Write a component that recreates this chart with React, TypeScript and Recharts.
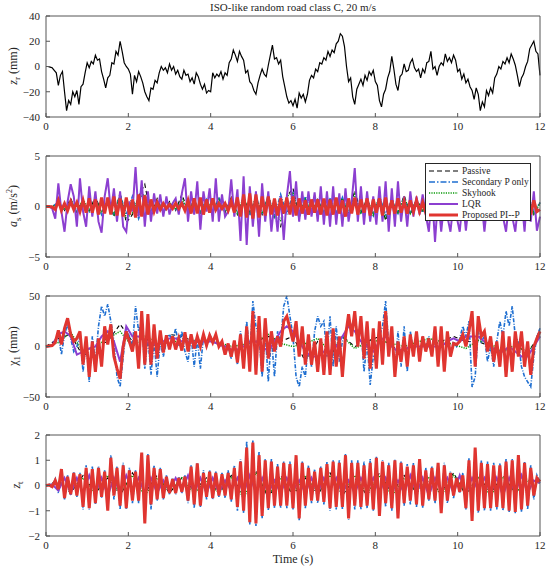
import React from 'react';
import { LineChart, Line, XAxis, YAxis } from 'recharts';

const T_END = 12;
const xTicks = [0, 2, 4, 6, 8, 10, 12];

// road profile z_r (mm), one value every 0.05 s
const roadZr = [
  0, 0, -0.5, -1, -3, -5, -15, -7, -4, -20, -35, -27, -30, -20, -24, -19, -30, -16, -14, -5,
  3, -1, 4, 2, 9, 5, 6, -4, -10, -17, -9, -7, 3, 2, 12, 9, 20, 12, 3, 0,
  -2, -6, -22, -7, -12, -4, -8, -13, -20, -24, -27, -17, -18, -11, -13, -5, 0, -3, -1, -5,
  2, -3, 0, -6, -3, -8, -10, -3, -7, -6, -12, -9, -14, -5, -8, -14, -18, -14, -21, -19,
  -20, -5, -9, -6, -8, -4, -10, -5, -7, 3, 6, 13, 9, 4, 12, 8, 5, -5, -3, -12,
  -14, -19, -22, -13, -7, -2, -6, -8, 1, 9, 17, 6, 7, 2, 5, -8, -16, -24, -29, -27,
  -31, -26, -33, -21, -25, -22, -28, -22, -11, -7, -9, -2, -4, 3, 2, 7, 5, 12, 8, 13,
  11, 18, 20, 26, 24, 16, 0, -12, -9, -24, -30, -18, -14, -10, -15, -7, -11, -4, -7, -3,
  -12, -15, -27, -32, -22, -18, -9, -4, 8, -2, -14, -19, -8, -6, 2, -4, -3, 3, 6, -1,
  -4, -2, -9, -2, -5, 3, 4, 12, -2, 0, -7, 0, 3, 1, 10, 4, 7, 3, 9, 5,
  -4, -2, -10, -6, -13, -10, -16, -19, -26, -17, -22, -35, -28, -32, -19, -23, -17, -21, -9, -6,
  0, -2, 4, 2, 7, 3, 10, 6, 1, -7, -16, -9, -6, 0, 4, 14, 17, 20, 12, 10,
  -7,
];

// sprung mass acceleration a_s (m/s^2)
const asPassive = [
  0, 0, 0.2, -0.4, 0.8, -0.6, 0.6, -0.5, 1.0, -0.6,
  0.5, -1.0, 1.4, -1.6, -0.8, 1.0, 2.2, -1.0, 0.8, -0.6,
  0.5, -0.4, 1.2, -0.4, 0.6, -0.8, 0.6, -0.5, 0.8, -0.6,
  0.9, -0.8, 1.0, -0.6, 0.9, -0.8, 1.1, -1.2, -2.0, 1.0,
  1.8, -0.9, 0.8, -0.8, 0.7, -0.6, 0.8, -0.8, 0.9, -0.8,
  1.6, -0.6, 0.8, -0.9, 1.1, -1.4, 0.8, -0.6, 1.1, -0.8,
  0.8, -0.4, 0.6, -0.8, 0.5, -0.4, 0.7, -0.6, 0.8, -0.7,
  0.6, -0.5, 0.7, -0.8, 0.8, -0.7, 0.9, -0.8, 1.3, -0.8,
  0.4,
];
const asSecondary = [
  0, 0, 0.4, -0.3, 0.6, -0.4, 0.5, -0.6, 0.6, -0.8,
  0.7, -0.9, 1.2, -0.8, 1.0, -1.2, 0.6, -0.4, 0.5, -0.6,
  0.4, -0.3, 0.5, -0.4, 0.6, -0.5, 0.7, -0.6, 0.9, -0.4,
  0.5, -0.6, 0.8, -0.9, 1.0, -0.8, 1.1, -1.0, 1.2, -0.8,
  1.3, -1.2, 1.0, -0.6, 0.7, -0.8, 0.9, -0.7, 0.9, -0.9,
  0.8, -0.6, 0.7, -0.9, 1.0, -0.8, 0.6, -0.7, 0.8, -0.6,
  0.5, -0.6, 0.7, -0.5, 0.6, -0.7, 0.6, -0.6, 0.5, -0.6,
  0.7, -0.6, 0.6, -0.7, 0.8, -0.6, 0.9, -0.8, 1.2, -0.6,
  0.4,
];
const asSkyhook = [
  0, 0, 0.2, -0.3, 0.6, -0.5, 0.7, -0.4, 0.8, -0.6,
  0.4, -0.8, 1.1, -1.2, -0.6, 0.9, 1.2, -0.9, 0.6, -0.5,
  0.4, -0.3, 0.8, -0.4, 0.5, -0.6, 0.6, -0.5, 0.7, -0.6,
  0.8, -0.7, 0.9, -0.6, 0.8, -0.7, 1.0, -1.0, -1.4, 1.0,
  1.4, -0.8, 0.7, -0.6, 0.6, -0.6, 0.7, -0.7, 0.8, -0.6,
  1.2, -0.6, 0.7, -0.8, 1.0, -1.2, 0.6, -0.6, 1.0, -0.7,
  0.6, -0.4, 0.6, -0.6, 0.5, -0.4, 0.6, -0.6, 0.7, -0.6,
  0.6, -0.5, 0.6, -0.7, 0.7, -0.6, 0.8, -0.7, 1.2, -0.7,
  0.3,
];
const asLqr = [
  0, 0, -0.2, -1.2, 2.3, -0.5, -2.5, 0.5, 2.2, 1.0, -2.0, 2.8, -0.5, -2.0, 2.0, -1.0, 1.5, -1.5, -2.6, 1.0,
  2.8, -0.5, 1.8, -1.5, 1.5, -2.0, -2.5, 0.5, -0.5, 3.9, -1.0, 2.6, -2.0, 1.5, -1.5, 1.3, -0.7, 1.2, -1.0, 1.0,
  -0.8, 0.3, 0.8, -0.8, 1.3, 2.8, -1.5, 1.5, -0.8, 2.5, -2.3, 1.5, -0.5, 1.8, -1.5, 2.8, -1.5, 1.2, -1.0, -0.5,
  2.7, -1.0, 1.7, -3.4, 3.0, -3.8, 2.0, -2.0, 1.5, -3.0, 2.3, -1.5, 1.5, -2.5, 0.5, -2.5, 1.0, -3.3, 1.0, 3.5,
  -1.0, 2.5, -1.5, 1.5, -1.3, 1.5, -1.0, 1.4, -1.5, 2.0, -1.8, 1.5, -2.0, 2.0, -1.8, 1.3, -2.0, 1.8, -1.5, 0.5,
  3.8, -1.5, 2.0, -1.8, 1.5, -1.5, 1.0, -1.8, 2.0, -1.5, 2.5, -2.5, 1.8, -2.0, 2.5, -1.5, 1.0, -2.0, 1.5, -1.0,
  1.0, -0.8, 1.2, -0.8, -2.5, 1.5, -3.5, 1.0, -2.5, 0.5, -1.0, -2.5, 0.5, -1.0, -2.5, 0.8, -2.4, 0.5, 1.0, -1.0,
  1.0, 0.8, -2.5, 0.5, 0.8, -1.0, 0.5, 1.0, -1.0, -2.5, 0.5, -1.0, -2.5, 0.5, 1.0, -2.5, 2.0, -1.5, 1.5, -2.4,
  -1.0,
];
const asProposed = [
  0, 0, -0.05, -0.3, 0.6, -0.4, 0.3, -0.4, 0.5, -0.3, 0.4, -0.5, 0.6, -0.6, 0.8, -0.6, 0.7, -0.8, 0.9, -0.7,
  0.9, -0.8, 1.0, -0.9, 0.8, -1.0, 0.9, -0.8, 0.7, -1.1, 1.2, -1.0, 1.1, -0.8, 0.7, -0.5, 0.4, -0.3, 0.3, -0.2,
  0.2, -0.2, 0.3, -0.2, 0.3, -0.4, 0.6, -0.7, 0.8, -0.7, 0.9, -0.8, 0.7, -0.6, 0.8, -0.3, 0.3, -0.2, 0.3, -0.4,
  0.5, -0.6, 0.9, -1.0, 1.2, -1.1, 1.3, -1.2, 1.2, -1.1, 1.0, -0.9, 1.0, -0.8, 0.8, -0.9, 0.8, -0.7, 0.9, -0.8,
  1.0, -0.9, 0.8, -0.7, 0.6, -0.8, 0.7, -0.6, 0.7, -0.8, 0.8, -0.9, 0.7, -0.8, 0.9, -0.7, 0.6, -1.0, 0.8, -0.7,
  0.9, -0.8, 0.7, -0.6, 0.8, -0.9, 0.7, -0.6, 0.8, -0.9, 0.9, -0.8, 0.6, -0.7, 0.8, -0.6, 0.5, -0.7, 0.6, -0.5,
  0.6, -0.5, 0.4, -0.6, 0.5, -0.7, 0.6, -0.5, 0.6, -0.5, 0.4, -0.5, 0.6, -0.5, 0.5, -0.6, 0.7, -0.6, 0.5, -0.7,
  0.6, -0.5, 0.7, -0.6, 0.5, -0.7, 0.6, -0.5, 0.6, -0.7, 0.5, -0.6, 0.7, -0.6, 0.8, -0.7, 0.9, -0.8, 0.6, -0.5,
  -0.3,
];

// primary suspension deflection chi_1 (mm)
const x1Passive = [
  0, 8, 12, -10, 0, 5, 22, 5, 8, 3,
  12, 10, 5, 5, 3, 0, 2, 5, 10, 5,
  10, -15, 5, -10, 10, 0, 5, 10, 0, -5,
  5, 0, 5, 10, 5, 5, 0, -5, 0, -5,
  10,
];
const x1Secondary = [
  0, 0.5, 1, 4, 12, -8, 12, 22, 8, -5, 0, 10, -25, 5, -35, 10, -15, 20, 40, 30,
  42, 25, 5, -30, -40, -10, 18, 10, 0, 40, 15, 25, -22, 10, -28, 5, -30, 5, -10, 5,
  12, 5, 18, 0, 15, -5, -15, 10, -20, 8, -22, 10, 0, 12, 5, 10, 0, 2, -8, 0,
  -12, 5, -18, 15, -20, 25, -10, 45, 20, 10, -30, 15, -35, 10, -30, 15, 5, 40, 50, 30,
  10, -30, -40, -20, -30, 5, -20, 15, 30, 20, 25, -10, 30, -20, 20, -15, 5, 15, 25, 20,
  30, 10, 20, -25, 5, -38, -10, -15, 10, 20, 45, 0, 10, -25, 15, -20, 20, -25, 15, -5,
  10, -10, 8, 0, 10, -5, 15, -15, 12, -20, 10, -5, 5, 0, 8, 20, 10, 25, -40, -30,
  15, 5, 10, -15, 0, -20, 5, 25, 10, 35, 20, 40, 10, 5, -20, -30, -35, -40, -10, 10,
  18,
];
const x1Skyhook = [
  0, 4, 14, -5, 0, 8, 15, 0, 10, 5,
  5, 5, 6, 6, 4, 0, 2, 5, 12, 3,
  0, 3, 8, -5, 10, -2, 4, 6, 3, 0,
  4, 8, 5, 2, -2, 6, 3, -6, 2, -6,
  10,
];
const x1Lqr = [
  0, 1, 12, 15, 10, -8, -5, -2, 0, 10,
  15, 5, -15, 20, 10, 10, 5, 3, 2, 5,
  8, 8, 5, 5, 5, 5, 5, 5, 2, 0,
  -3, -3, 0, 5, 5, 0, -5, 5, 15, 20,
  15, 5, -5, -10, -10, -5, -5, 0, 10, 20,
  15, 5, 0, -5, 5, 10, 0, -5, -3, 0,
  0, 0, 0, 0, 0, 5, 8, 5, 10, 10,
  10, 5, 0, -5, -5, 0, -5, -10, -10, 0,
  10,
];
const x1Proposed = [
  0, 0.5, 1, 4, 16, 2, 18, 28, 12, 5, 8, 15, -18, 10, -30, 5, -25, 8, -20, 20,
  2, 22, -10, -22, -32, 0, 15, 5, -5, 15, -22, 35, -18, 32, -18, 22, -12, 16, -6, 11,
  -3, 10, -3, 8, -4, 14, -5, 12, -2, 10, 0, 12, 1, 11, 4, 12, 0, 5, -8, 3,
  -10, 6, -16, 12, -22, 20, -25, 35, -28, 30, -25, 28, -12, 15, -5, 10, 0, 25, 30, 18,
  5, 25, -10, 20, -18, 12, -18, 5, -25, 8, -28, 15, -28, 18, -20, 10, -30, 10, 32, 10,
  35, 0, 30, -12, 25, -22, 18, -22, 25, -18, 35, -10, 20, -30, 5, -15, 10, -20, 12, -10,
  15, -15, 10, -5, 8, -10, 20, -20, 20, -25, 15, -10, 3, 2, 5, 12, 0, 15, 35, -20,
  30, 10, 15, -5, 10, -15, 5, -20, 15, -30, 10, -25, 15, -10, 15, -20, 5, -28, 0, 8,
  15,
];

// tyre deflection z_t
const ztPassive = [
  0, 0.2, -0.3, 0.4, -0.3, 0.3, -0.4, 0.5, -0.3, 0.4,
  -0.3, 0.3, -0.2, 0.3, -0.3, 0.4, -0.4, 0.6, -0.5, 0.4,
  -0.4, 0.3, -0.4, 0.5, -0.4, 0.3, -0.4, 0.5, -0.3, 0.4,
  -0.3, 0.2, -0.3, 0.5, -0.4, 0.4, -0.3, 0.4, -0.3, 0.3,
  0.1,
];
const ztSecondary = [
  0, 0.03, -0.08, 0.25, -0.3, 0.6, -0.55, 0.4, -0.4, 0.55, -0.45, 0.5, -0.95, 0.8, -0.95, 0.75, -0.75, 0.75, -0.5, 0.6,
  -0.95, 1.2, -0.55, 0.75, -0.95, 0.9, -0.95, 0.7, -0.7, 0.6, -0.7, 1.2, -1.4, 1.25, -0.95, 0.8, -0.6, 0.7, -0.55, 0.4,
  -0.35, 0.3, -0.35, 0.35, -0.3, 0.4, -0.7, 0.8, -0.9, 0.9, -0.85, 0.6, -0.55, 0.6, -0.55, 0.55, -0.45, 0.5, -0.5, 0.6,
  -0.65, 0.8, -1.0, 1.05, -1.1, 1.75, -1.55, 1.8, -1.6, 1.35, -1.3, 1.05, -1.0, 1.05, -0.9, 0.85, -0.9, 0.95, -0.9, 0.95,
  -0.95, 1.15, -1.4, 0.95, -0.9, 0.8, -0.7, 0.65, -0.7, 0.75, -0.75, 0.95, -1.0, 1.0, -0.95, 1.0, -0.95, 1.25, -1.35, 1.0,
  -0.95, 1.0, -0.95, 0.95, -0.9, 1.05, -1.0, 1.15, -1.1, 1.0, -0.85, 0.9, -1.0, 1.05, -1.2, 0.95, -0.8, 0.85, -0.75, 0.9,
  -0.85, 1.0, -0.9, 0.7, -0.6, 0.75, -0.7, 0.85, -1.0, 0.9, -0.7, 0.55, -0.5, 0.35, -0.3, 0.5, -0.95, 1.1, -1.35, 1.4,
  -1.1, 1.0, -1.0, 0.95, -1.0, 0.9, -0.95, 0.9, -1.0, 1.05, -1.05, 1.05, -1.1, 1.15, -1.05, 0.95, -0.95, 0.8, -0.55, 0.4,
  0.1,
];
const ztSkyhook = [
  0, 0.1, -0.2, 0.3, -0.3, 0.4, -0.3, 0.4, -0.4, 0.3,
  -0.2, 0.3, -0.3, 0.2, -0.3, 0.3, -0.5, 0.5, -0.4, 0.3,
  -0.3, 0.4, -0.3, 0.4, -0.3, 0.4, -0.3, 0.4, -0.4, 0.3,
  -0.2, 0.3, -0.4, 0.4, -0.3, 0.3, -0.4, 0.3, -0.3, 0.2,
  0.1,
];
const ztLqr = [
  0, 0.05, -0.2, 0.3, -0.3, 0.3, -0.3, 0.4, -0.3, 0.3,
  -0.4, 0.3, -0.3, 0.4, -0.2, 0.3, -0.3, 0.3, -0.3, 0.2,
  -0.2, 0.3, -0.2, 0.4, -0.3, 0.3, -0.3, 0.3, -0.3, 0.2,
  -0.2, 0.3, -0.3, 0.4, -0.3, 0.3, -0.3, 0.2, -0.3, 0.3,
  -0.2, 0.2, -0.3, 0.3, -0.3, 0.3, -0.2, 0.3, -0.3, 0.2,
  -0.3, 0.3, -0.2, 0.3, -0.3, 0.3, -0.3, 0.2, -0.3, 0.4,
  -0.3, 0.3, -0.4, 0.3, -0.2, 0.3, -0.3, 0.4, -0.3, 0.3,
  -0.2, 0.3, -0.3, 0.3, -0.4, 0.3, -0.3, 0.4, -0.3, 0.2,
  0.1,
];
const ztProposed = [
  0, 0.02, -0.05, 0.2, -0.15, 0.65, -0.5, 0.35, -0.35, 0.5, -0.4, 0.45, -0.85, 0.7, -0.9, 0.65, -0.7, 0.7, -0.45, 0.55,
  -1.0, 1.1, -0.4, 0.7, -0.8, 0.8, -0.9, 0.6, -0.6, 0.55, -0.6, 1.3, -1.5, 1.2, -0.75, 0.7, -0.55, 0.65, -0.5, 0.35,
  -0.3, 0.25, -0.3, 0.3, -0.25, 0.35, -0.6, 0.75, -0.75, 0.88, -0.8, 0.5, -0.45, 0.55, -0.5, 0.5, -0.4, 0.45, -0.4, 0.5,
  -0.55, 0.7, -0.85, 0.95, -1.0, 1.5, -1.45, 1.7, -1.5, 1.2, -1.2, 1.0, -0.9, 0.95, -0.8, 0.75, -0.8, 0.9, -0.8, 0.85,
  -0.9, 1.2, -1.3, 0.9, -0.8, 0.7, -0.6, 0.55, -0.6, 0.7, -0.65, 0.85, -0.9, 0.95, -0.85, 0.9, -0.85, 1.2, -1.3, 0.9,
  -0.8, 0.9, -0.85, 0.8, -0.8, 0.9, -0.95, 1.1, -1.2, 0.95, -0.7, 0.8, -0.9, 1.0, -1.3, 0.9, -0.7, 0.75, -0.6, 0.8,
  -0.75, 1.05, -0.8, 0.6, -0.55, 0.7, -0.6, 0.9, -1.1, 0.8, -0.6, 0.5, -0.4, 0.3, -0.25, 0.4, -0.9, 1.0, -1.4, 1.5,
  -1.0, 0.9, -0.9, 0.85, -0.9, 0.8, -0.85, 0.8, -0.9, 0.95, -1.0, 1.0, -1.05, 1.2, -0.95, 0.9, -0.8, 0.7, -0.4, 0.3,
  0.15,
];

const FONT = '"Liberation Serif", "Times New Roman", serif';
const AXIS = '#555555';
const TEXT = '#262626';

const styles = {
  passive: { stroke: '#000000', strokeWidth: 1.1, strokeDasharray: '4 3' },
  secondary: { stroke: '#1f6fd1', strokeWidth: 1.6, strokeDasharray: '4 1.5 1 1.5' },
  skyhook: { stroke: '#0a9a0a', strokeWidth: 1.5, strokeDasharray: '1.2 1.2' },
  lqr: { stroke: '#8c3fd0', strokeWidth: 2, strokeDasharray: undefined },
  proposed: { stroke: '#e03530', strokeWidth: 3, strokeDasharray: undefined },
};

const legendItems = [
  { name: 'Passive', ...styles.passive, strokeDasharray: '5 3' },
  { name: 'Secondary P only', ...styles.secondary, strokeDasharray: '6 2 1.5 2' },
  { name: 'Skyhook', ...styles.skyhook },
  { name: 'LQR', ...styles.lqr },
  { name: 'Proposed PI--P', ...styles.proposed },
];

const toPoints = (vals: number[]) =>
  vals.map((v, i) => ({ t: (i * T_END) / (vals.length - 1), v }));

const fmt = (v: number) => (v < 0 ? `\u2212${Math.abs(v)}` : `${v}`);

type Series = { key: string; values: number[]; style: any };

function Panel({
  top,
  domain,
  ticks,
  series,
}: {
  top: number;
  domain: [number, number];
  ticks: number[];
  series: Series[];
}) {
  const tickStyle = { fontSize: 11, fill: TEXT, fontFamily: FONT };
  return (
    <div style={{ position: 'absolute', left: 0, top }}>
      <LineChart width={550} height={140} margin={{ top: 15, right: 9, bottom: 0, left: 0 }}>
        <XAxis
          xAxisId="b"
          type="number"
          dataKey="t"
          domain={[0, T_END]}
          ticks={xTicks}
          height={23}
          tickSize={-4}
          tickMargin={9}
          tick={tickStyle}
          axisLine={{ stroke: AXIS }}
          tickLine={{ stroke: AXIS }}
        />
        <XAxis
          xAxisId="top"
          orientation="top"
          type="number"
          dataKey="t"
          domain={[0, T_END]}
          ticks={xTicks}
          height={1}
          tickSize={-4}
          tick={false}
          axisLine={{ stroke: AXIS }}
          tickLine={{ stroke: AXIS }}
        />
        <YAxis
          yAxisId="l"
          type="number"
          domain={domain}
          ticks={ticks}
          width={46}
          tickSize={-4}
          tickMargin={10}
          tick={tickStyle}
          tickFormatter={fmt}
          axisLine={{ stroke: AXIS }}
          tickLine={{ stroke: AXIS }}
        />
        <YAxis
          yAxisId="r"
          orientation="right"
          type="number"
          domain={domain}
          ticks={ticks}
          width={1}
          tickSize={-4}
          tick={false}
          axisLine={{ stroke: AXIS }}
          tickLine={{ stroke: AXIS }}
        />
        {series.map((s) => (
          <Line
            key={s.key}
            xAxisId="b"
            yAxisId="l"
            data={toPoints(s.values)}
            dataKey="v"
            type="linear"
            dot={false}
            isAnimationActive={false}
            stroke={s.style.stroke}
            strokeWidth={s.style.strokeWidth}
            strokeDasharray={s.style.strokeDasharray}
          />
        ))}
      </LineChart>
    </div>
  );
}

function YLabel({ top, left = 14, children }: { top: number; left?: number; children: React.ReactNode }) {
  return (
    <div
      style={{
        position: 'absolute',
        left,
        top,
        transform: 'translate(-50%, -50%) rotate(-90deg)',
        whiteSpace: 'nowrap',
        fontSize: 12,
        color: TEXT,
        fontFamily: FONT,
      }}
    >
      {children}
    </div>
  );
}

function LegendBox() {
  return (
    <div
      style={{
        position: 'absolute',
        left: 425,
        top: 163,
        width: 106,
        height: 58,
        background: '#fff',
        border: `1px solid ${TEXT}`,
        boxSizing: 'border-box',
        paddingTop: 2,
        fontFamily: FONT,
        fontSize: 9.5,
        color: TEXT,
      }}
    >
      {legendItems.map((it) => (
        <div key={it.name} style={{ display: 'flex', alignItems: 'center', height: 10.8 }}>
          <svg width={36} height={8} style={{ flex: 'none' }}>
            <line
              x1={3}
              y1={4}
              x2={32}
              y2={4}
              stroke={it.stroke}
              strokeWidth={it.strokeWidth}
              strokeDasharray={it.strokeDasharray}
            />
          </svg>
          <span style={{ whiteSpace: 'nowrap' }}>{it.name}</span>
        </div>
      ))}
    </div>
  );
}

const five = (p: number[], s: number[], k: number[], l: number[], r: number[]): Series[] => [
  { key: 'passive', values: p, style: styles.passive },
  { key: 'secondary', values: s, style: styles.secondary },
  { key: 'skyhook', values: k, style: styles.skyhook },
  { key: 'lqr', values: l, style: styles.lqr },
  { key: 'proposed', values: r, style: styles.proposed },
];

export default function App() {
  return (
    <div
      style={{
        position: 'absolute',
        left: 0,
        top: 0,
        width: 550,
        height: 572,
        background: '#fff',
        fontFamily: FONT,
        overflow: 'hidden',
      }}
    >
      <div
        style={{
          position: 'absolute',
          left: 46,
          width: 494,
          top: 1,
          textAlign: 'center',
          fontSize: 11,
          color: TEXT,
        }}
      >
        ISO-like random road class C, 20 m/s
      </div>

      <Panel
        top={0}
        domain={[-40, 40]}
        ticks={[-40, -20, 0, 20, 40]}
        series={[{ key: 'road', values: roadZr, style: { stroke: '#000', strokeWidth: 1.2 } }]}
      />
      <Panel
        top={140}
        domain={[-5, 5]}
        ticks={[-5, 0, 5]}
        series={five(asPassive, asSecondary, asSkyhook, asLqr, asProposed)}
      />
      <Panel
        top={280}
        domain={[-50, 50]}
        ticks={[-50, 0, 50]}
        series={five(x1Passive, x1Secondary, x1Skyhook, x1Lqr, x1Proposed)}
      />
      <Panel
        top={419}
        domain={[-2, 2]}
        ticks={[-2, -1, 0, 1, 2]}
        series={five(ztPassive, ztSecondary, ztSkyhook, ztLqr, ztProposed)}
      />

      <LegendBox />

      <YLabel top={66}>
        <i>z</i>
        <sub style={{ fontSize: 9 }}>r</sub> (mm)
      </YLabel>
      <YLabel top={206}>
        <i>a</i>
        <sub style={{ fontSize: 9 }}>s</sub> (m/s<sup style={{ fontSize: 8 }}>2</sup>)
      </YLabel>
      <YLabel top={346}>
        {'\u03c7'}
        <sub style={{ fontSize: 9 }}>1</sub> (mm)
      </YLabel>
      <YLabel top={485} left={17}>
        <i>z</i>
        <sub style={{ fontSize: 9 }}>t</sub>
      </YLabel>

      <div
        style={{
          position: 'absolute',
          left: 46,
          width: 494,
          top: 552,
          textAlign: 'center',
          fontSize: 12,
          color: TEXT,
        }}
      >
        Time (s)
      </div>
    </div>
  );
}
